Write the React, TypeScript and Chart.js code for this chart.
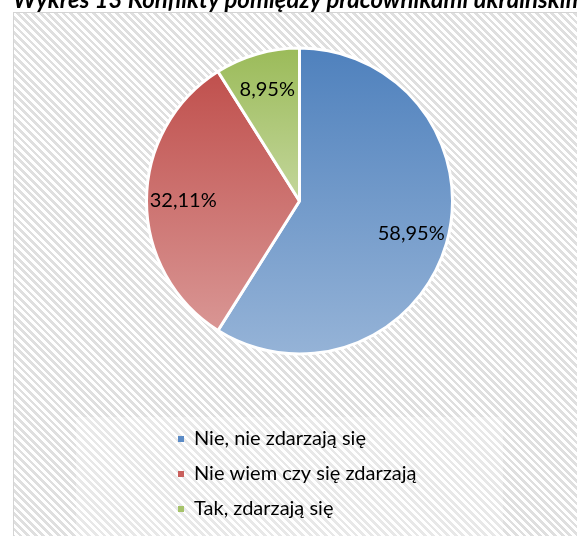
import React, { useEffect, useRef } from "react";
import { Chart, registerables } from "chart.js";

Chart.register(...registerables);

const categories = ["Nie, nie zdarzają się", "Nie wiem czy się zdarzają", "Tak, zdarzają się"];
const values = [58.95, 32.11, 8.95];
const topColors = ["#4f81bd", "#c0504d", "#9bbb59"];
const bottomColors = ["#95b3d7", "#d99694", "#c3d69b"];
const legendColors = ["#5b8bc6", "#c9605d", "#a6c36a"];
const titleText = "Wykres 13 Konflikty pomiędzy pracownikami ukraińskimi";

const RADIUS = 153;
const LABEL_FRACTION = 0.76;

const fmt = (v: number) => v.toFixed(2).replace(".", ",") + "%";

const pctLabels = {
  id: "pctLabels",
  afterDatasetsDraw(chart: any) {
    const meta = chart.getDatasetMeta(0);
    const c = chart.ctx;
    c.save();
    c.font = "20px Lato";
    c.fillStyle = "#000";
    c.textAlign = "center";
    c.textBaseline = "middle";
    meta.data.forEach((el: any, i: number) => {
      const p = el.getProps(["x", "y", "startAngle", "endAngle", "outerRadius"], true);
      const mid = (p.startAngle + p.endAngle) / 2;
      const rr = p.outerRadius * LABEL_FRACTION;
      c.fillText(fmt(values[i]), p.x + Math.cos(mid) * rr, p.y + Math.sin(mid) * rr);
    });
    c.restore();
  },
};

function sliceGradient(ctx: any) {
  const i = ctx.dataIndex ?? 0;
  const chart = ctx.chart;
  const area = chart.chartArea;
  if (!area) return topColors[i];
  const cy = (area.top + area.bottom) / 2;
  const total = values.reduce((a, b) => a + b, 0);
  const before = values.slice(0, i).reduce((a, b) => a + b, 0);
  const start = -Math.PI / 2 + (before / total) * 2 * Math.PI;
  const end = start + (values[i] / total) * 2 * Math.PI;
  let minY = cy;
  let maxY = cy;
  for (let k = 0; k <= 90; k++) {
    const a = start + ((end - start) * k) / 90;
    const y = cy + RADIUS * Math.sin(a);
    if (y < minY) minY = y;
    if (y > maxY) maxY = y;
  }
  const g = chart.ctx.createLinearGradient(0, minY, 0, maxY);
  g.addColorStop(0, topColors[i]);
  g.addColorStop(1, bottomColors[i]);
  return g;
}

export default function App() {
  const ref = useRef<HTMLCanvasElement | null>(null);

  useEffect(() => {
    document.body.style.margin = "0";
    document.body.style.overflow = "hidden";
    if (!ref.current) return;
    const chart = new Chart(ref.current, {
      type: "pie",
      data: {
        labels: categories,
        datasets: [
          {
            data: values,
            backgroundColor: sliceGradient as any,
            borderColor: "#ffffff",
            borderWidth: 3,
            radius: RADIUS,
          } as any,
        ],
      },
      options: {
        responsive: false,
        animation: false,
        layout: { padding: { left: 163, right: 141, top: 8, bottom: 7 } },
        plugins: {
          title: { display: false },
          tooltip: { enabled: false },
          legend: {
            display: true,
            position: "bottom",
            align: "start",
            labels: {
              font: { family: "Lato", size: 20 },
              color: "#000",
              boxWidth: 6,
              boxHeight: 6,
              padding: 15,
              generateLabels: () =>
                categories.map((text, i) => ({
                  text,
                  fillStyle: legendColors[i],
                  strokeStyle: legendColors[i],
                  lineWidth: 0,
                  hidden: false,
                  index: i,
                  fontColor: "#000",
                })),
            },
          },
        },
      },
      plugins: [pctLabels],
    });
    return () => chart.destroy();
  }, []);

  return (
    <div style={{ position: "relative", width: 577, height: 536, overflow: "hidden", background: "#fff" }}>
      <div
        style={{
          position: "absolute",
          left: 13,
          top: 12,
          width: 600,
          height: 560,
          border: "1px solid #d4d4d4",
          background:
            "repeating-linear-gradient(45deg, #ffffff 0px, #ffffff 2.7px, #dfdfdf 2.7px, #dfdfdf 5.4px)",
        }}
      />
      <div
        style={{
          position: "absolute",
          left: 76,
          top: 417,
          width: 427,
          height: 140,
          background: "rgba(255,255,255,0.3)",
        }}
      />
      <canvas
        ref={ref}
        width={577}
        height={556}
        style={{ position: "absolute", left: 0, top: -20, width: 577, height: 556 }}
      />
      <div
        style={{
          position: "absolute",
          left: 13,
          top: -13,
          whiteSpace: "nowrap",
          fontFamily: "Lato",
          fontWeight: "bold",
          fontStyle: "italic",
          fontSize: 24,
          lineHeight: "24px",
          color: "#000",
        }}
      >
        {titleText}
      </div>
    </div>
  );
}
